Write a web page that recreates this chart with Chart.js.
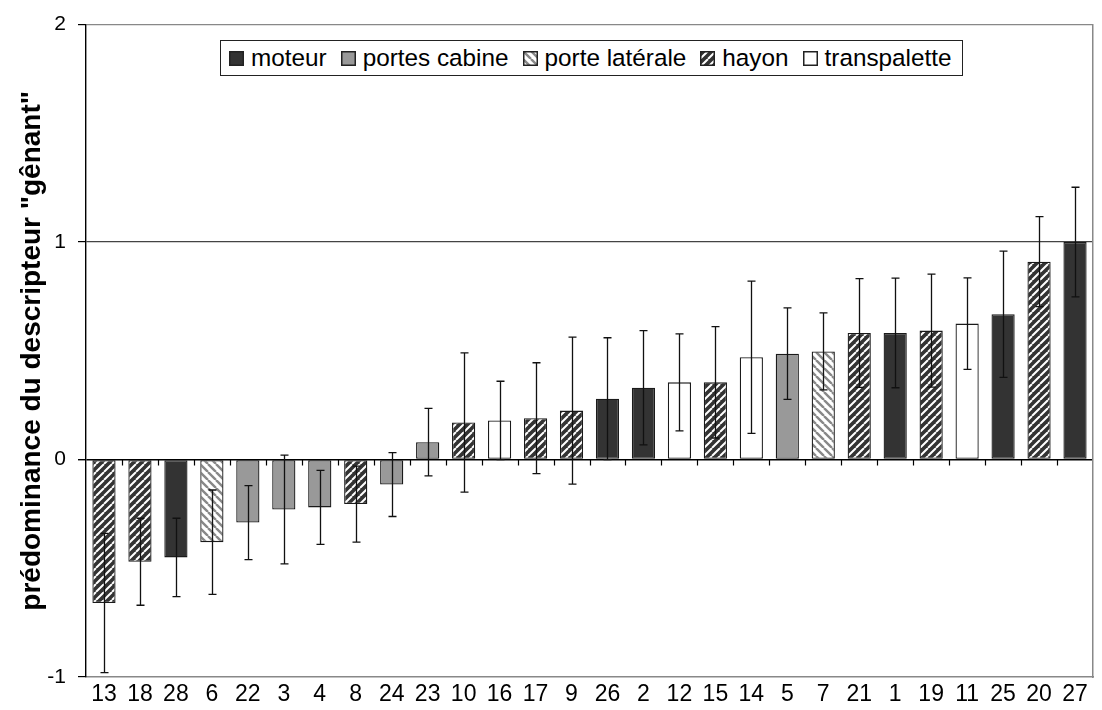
<!DOCTYPE html>
<html>
<head>
<meta charset="utf-8">
<script src="https://cdn.jsdelivr.net/npm/chart.js@4.4.1/dist/chart.umd.min.js"></script>
<style>
  body { margin: 0; background: #fff; }
  #wrap { position: relative; width: 1102px; height: 710px; }
  #legend {
    position: absolute; left: 220px; top: 40px; height: 34px;
    border: 1.5px solid #222; background: #fff; padding: 0 10px 0 8px;
    display: flex; align-items: center;
    font: 24.3px 'Liberation Sans', Arial, sans-serif; color: #000;
  }
  #legend .item { display: flex; align-items: center; margin-right: 14px; }
  #legend .item:last-child { margin-right: 0; }
  #legend canvas { width: 15px; height: 15px; margin-right: 7px; }
</style>
</head>
<body>
<div id="wrap">
  <canvas id="myChart" width="1102" height="710"></canvas>
  <div id="legend"></div>
</div>
<script>
// categories, sorted by mean value
const labels = ['13', '18', '28', '6', '22', '3', '4', '8', '24', '23', '10', '16', '17', '9',
                '26', '2', '12', '15', '14', '5', '7', '21', '1', '19', '11', '25', '20', '27'];
const values = [-0.66, -0.47, -0.45, -0.38, -0.29, -0.23, -0.22, -0.205, -0.115, 0.08, 0.17, 0.18, 0.19, 0.225,
                0.28, 0.33, 0.355, 0.355, 0.47, 0.487, 0.497, 0.582, 0.582, 0.593, 0.625, 0.668, 0.91, 1.0];
const errors = [0.32, 0.2, 0.18, 0.24, 0.17, 0.25, 0.17, 0.175, 0.147, 0.155, 0.32, 0.18, 0.255, 0.338,
                0.28, 0.263, 0.223, 0.256, 0.35, 0.21, 0.177, 0.25, 0.252, 0.26, 0.21, 0.29, 0.207, 0.252];
const types = ['hayon', 'hayon', 'moteur', 'porte latérale', 'portes cabine', 'portes cabine', 'portes cabine',
               'hayon', 'portes cabine', 'portes cabine', 'hayon', 'transpalette', 'hayon', 'hayon',
               'moteur', 'moteur', 'transpalette', 'hayon', 'transpalette', 'portes cabine', 'porte latérale',
               'hayon', 'moteur', 'hayon', 'transpalette', 'moteur', 'hayon', 'moteur'];
const typeNames = ['moteur', 'portes cabine', 'porte latérale', 'hayon', 'transpalette'];
const yTitle = 'prédominance du descripteur "gênant"';

Chart.defaults.font.family = "'Liberation Sans', Arial, sans-serif";
Chart.defaults.color = '#000';

function stripes(g, bg, fg, width, dir) {
  const size = 8;
  const tile = document.createElement('canvas');
  tile.width = size; tile.height = size;
  const t = tile.getContext('2d');
  t.fillStyle = bg;
  t.fillRect(0, 0, size, size);
  t.strokeStyle = fg;
  t.lineWidth = width;
  t.beginPath();
  for (let k = -1; k <= 1; k++) {
    if (dir === '/') { t.moveTo(k * size, size); t.lineTo(k * size + size, 0); }
    else { t.moveTo(k * size, 0); t.lineTo(k * size + size, size); }
  }
  t.stroke();
  return g.createPattern(tile, 'repeat');
}

function fillFor(g, type) {
  switch (type) {
    case 'moteur': return '#333333';
    case 'portes cabine': return '#999999';
    case 'porte latérale': return stripes(g, '#ffffff', '#888888', 2.4, '\\');
    case 'hayon': return stripes(g, '#333333', '#ffffff', 2, '/');
    default: return '#ffffff';
  }
}

const ctx = document.getElementById('myChart');
const g = ctx.getContext('2d');
const fills = types.map(t => fillFor(g, t));

// legend
const legend = document.getElementById('legend');
typeNames.forEach(name => {
  const item = document.createElement('div');
  item.className = 'item';
  const sw = document.createElement('canvas');
  sw.width = 15; sw.height = 15;
  const sg = sw.getContext('2d');
  sg.fillStyle = fillFor(sg, name);
  sg.fillRect(0, 0, 15, 15);
  sg.strokeStyle = '#222';
  sg.lineWidth = 1.5;
  sg.strokeRect(0.75, 0.75, 13.5, 13.5);
  const txt = document.createElement('span');
  txt.textContent = name;
  item.appendChild(sw);
  item.appendChild(txt);
  legend.appendChild(item);
});

const errorBars = {
  id: 'errorBars',
  afterDatasetsDraw(chart) {
    const c = chart.ctx;
    const y = chart.scales.y;
    const meta = chart.getDatasetMeta(0);
    c.save();
    c.strokeStyle = '#111';
    c.lineWidth = 1.3;
    meta.data.forEach((bar, i) => {
      const hi = y.getPixelForValue(values[i] + errors[i]);
      const lo = y.getPixelForValue(values[i] - errors[i]);
      const x = Math.round(bar.x) + 0.5;
      c.beginPath();
      c.moveTo(x, hi); c.lineTo(x, lo);
      c.moveTo(x - 4, hi); c.lineTo(x + 4, hi);
      c.moveTo(x - 4, lo); c.lineTo(x + 4, lo);
      c.stroke();
    });
    c.restore();
  }
};

// category tick marks hang below the zero line
const zeroTicks = {
  id: 'zeroTicks',
  afterDatasetsDraw(chart) {
    const c = chart.ctx;
    const {x, y} = chart.scales;
    const y0 = y.getPixelForValue(0);
    const step = x.getPixelForValue(1) - x.getPixelForValue(0);
    c.save();
    c.strokeStyle = '#000';
    c.lineWidth = 1.2;
    c.beginPath();
    for (let i = 1; i < labels.length; i++) {
      const px = Math.round(x.getPixelForValue(i) - step / 2) + 0.5;
      c.moveTo(px, y0); c.lineTo(px, y0 + 6);
    }
    c.stroke();
    c.restore();
  }
};

const myChart = new Chart(ctx, {
  type: 'bar',
  data: {
    labels: labels,
    datasets: [{
      data: values,
      backgroundColor: fills,
      borderColor: '#1a1a1a',
      borderWidth: 1.3,
      borderSkipped: false,
      barPercentage: 0.645,
      categoryPercentage: 1
    }]
  },
  options: {
    responsive: false,
    animation: false,
    layout: { padding: { top: 22, right: 1, left: 0, bottom: 0 } },
    plugins: {
      legend: { display: false },
      tooltip: { enabled: false }
    },
    scales: {
      x: {
        grid: { display: true, drawOnChartArea: false, drawTicks: false, color: 'transparent' },
        border: { color: '#888', width: 1.5 },
        ticks: { font: { size: 23 }, padding: 4, maxRotation: 0, autoSkip: false },
        afterFit(s) { s.height = 33; }
      },
      y: {
        min: -1,
        max: 2,
        ticks: { stepSize: 1, font: { size: 21 }, padding: 12 },
        grid: {
          color: c => {
            const v = c.tick && c.tick.value;
            if (v === 0) return '#000';
            if (v === 1) return '#444';
            if (v === 2) return '#888';
            return 'transparent';
          },
          lineWidth: c => (c.tick && c.tick.value === 0) ? 1.4 : 1.2,
          tickColor: '#000',
          tickLength: 8
        },
        border: { color: '#000', width: 1.4 },
        title: {
          display: true,
          text: yTitle,
          font: { size: 28, weight: 'bold' },
          padding: { top: 15, bottom: 0 }
        },
        afterFit(s) { s.width = 86; }
      },
      y2: {
        position: 'right',
        grid: { display: false },
        ticks: { display: false },
        border: { color: '#888', width: 1.5 }
      }
    }
  },
  plugins: [errorBars, zeroTicks]
});
</script>
</body>
</html>
